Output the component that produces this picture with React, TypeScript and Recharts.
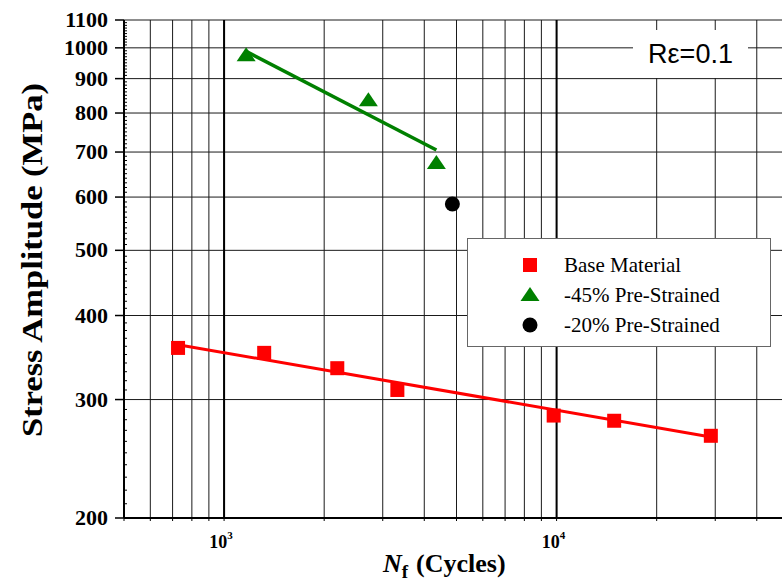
import { ScatterChart, Scatter, XAxis, YAxis, CartesianGrid, ReferenceLine, Legend, Label } from 'recharts';

// cycles to failure / stress amplitude (MPa)
const baseCycles = [727, 1320, 2190, 3320, 9800, 14900, 29100];
const baseStress = [358, 352, 334, 310, 284, 279, 265];
const baseFitCycles = [727, 29100];
const baseFitStress = [362, 264];

const pre45Cycles = [1165, 2716, 4350];
const pre45Stress = [975, 836, 674];
const pre45FitCycles = [1165, 4350];
const pre45FitStress = [988, 705];

const pre20Cycles = [4860];
const pre20Stress = [586];

const xTicks = [
  500, 600, 700, 800, 900,
  1000, 2000, 3000, 4000, 5000, 6000, 7000, 8000, 9000,
  10000, 20000, 30000, 40000,
];
const xDecades = [1000, 10000];
const yMajor = [200, 300, 400, 500, 600, 700, 800, 900, 1000, 1100];
const yMinor = Array.from({ length: 91 }, (_, i) => 200 + i * 10);

const zip = (xs: number[], ys: number[]) => xs.map((x, i) => ({ x, y: ys[i] }));

const baseData = zip(baseCycles, baseStress);
const baseFit = zip(baseFitCycles, baseFitStress);
const pre45Data = zip(pre45Cycles, pre45Stress);
const pre45Fit = zip(pre45FitCycles, pre45FitStress);
const pre20Data = zip(pre20Cycles, pre20Stress);

const SERIF = '"Liberation Serif", "Times New Roman", serif';
const SANS = '"Liberation Sans", Arial, sans-serif';

const Square = ({ cx, cy }: any) => <rect x={cx - 7} y={cy - 7} width={14} height={14} fill="#ff0000" />;
const Triangle = ({ cx, cy }: any) => (
  <polygon points={`${cx},${cy - 8} ${cx - 9.5},${cy + 6} ${cx + 9.5},${cy + 6}`} fill="#008000" />
);
const Dot = ({ cx, cy }: any) => <circle cx={cx} cy={cy} r={7.5} fill="#000" />;
const NoMark = () => <g />;

const YTick = ({ x, y, payload }: any) => {
  const v = payload.value;
  if (v % 100 === 0) {
    return (
      <g>
        <line x1={x - 9} x2={x} y1={y} y2={y} stroke="#000" strokeWidth={1.5} />
        <text x={x - 16} y={y + 7} textAnchor="end" fontFamily={SERIF} fontWeight="bold" fontSize={22} fill="#000">
          {v}
        </text>
      </g>
    );
  }
  return <line x1={x} x2={x + 3} y1={y} y2={y} stroke="#000" strokeWidth={1} />;
};

const XTick = ({ x, y, payload }: any) => {
  const v = payload.value;
  const exp = Math.round(Math.log10(v));
  const isDecade = xDecades.includes(v);
  return (
    <g>
      <line x1={x} x2={x} y1={y} y2={y + 3} stroke="#000" strokeWidth={1} />
      {isDecade && (
        <text x={x - 3} y={y + 30} textAnchor="middle" fontFamily={SERIF} fontWeight="bold" fontSize={18} fill="#000">
          10<tspan dy={-9} fontSize={11}>{exp}</tspan>
        </text>
      )}
    </g>
  );
};

const XTitle = () => (
  <text x={383} y={572} fontFamily={SERIF} fontWeight="bold" fontSize={26} fill="#000">
    <tspan fontStyle="italic">N</tspan>
    <tspan dy={6} fontSize={19}>f</tspan>
    <tspan dy={-6} dx={8}>(Cycles)</tspan>
  </text>
);

const YTitle = () => (
  <text
    x={42}
    y={260}
    transform="rotate(-90, 42, 260)"
    textAnchor="middle"
    fontFamily={SERIF}
    fontWeight="bold"
    fontSize={30}
    textLength={354}
    lengthAdjust="spacingAndGlyphs"
    fill="#000"
  >
    Stress Amplitude (MPa)
  </text>
);

const legendRows = [
  { name: 'Base Material', Mark: Square },
  { name: '-45% Pre-Strained', Mark: Triangle },
  { name: '-20% Pre-Strained', Mark: Dot },
];

const LegendBox = () => (
  <div
    style={{
      width: 304,
      height: 109,
      boxSizing: 'border-box',
      border: '1px solid #666',
      background: '#fff',
      position: 'relative',
    }}
  >
    <svg width={302} height={107} style={{ position: 'absolute', left: 0, top: 0 }}>
      {legendRows.map((r, i) => {
        const cy = [26, 56, 86][i];
        return (
          <g key={r.name}>
            <r.Mark cx={62} cy={cy} />
            <text x={96} y={cy + 7} fontFamily={SERIF} fontSize={21} fill="#000">
              {r.name}
            </text>
          </g>
        );
      })}
    </svg>
  </div>
);

export default function App() {
  return (
    <div style={{ position: 'absolute', left: 0, top: 0, width: 782, height: 582, overflow: 'hidden', background: '#fff' }}>
      <ScatterChart width={790} height={582} margin={{ top: 20, right: 1, bottom: 0, left: 0 }}>
        <CartesianGrid stroke="#1a1a1a" strokeWidth={1} horizontalValues={yMajor} />
        <XAxis
          type="number"
          dataKey="x"
          scale="log"
          domain={[500, 50000]}
          ticks={xTicks}
          interval={0}
          allowDataOverflow
          height={64}
          tickSize={0}
          tickMargin={0}
          tick={<XTick />}
          axisLine={{ stroke: '#000', strokeWidth: 2 }}
          tickLine={false}
        >
          <Label content={<XTitle />} />
        </XAxis>
        <YAxis
          type="number"
          dataKey="y"
          scale="log"
          domain={[200, 1100]}
          ticks={yMinor}
          interval={0}
          allowDataOverflow
          width={124}
          tickSize={0}
          tickMargin={0}
          tick={<YTick />}
          axisLine={{ stroke: '#000', strokeWidth: 2 }}
          tickLine={false}
        >
          <Label content={<YTitle />} />
        </YAxis>
        {xDecades.map((d) => (
          <ReferenceLine key={d} x={d} stroke="#000" strokeWidth={2} />
        ))}
        <Scatter data={baseFit} line={{ stroke: '#ff0000', strokeWidth: 3 }} shape={<NoMark />} isAnimationActive={false} />
        <Scatter data={pre45Fit} line={{ stroke: '#008000', strokeWidth: 3.5 }} shape={<NoMark />} isAnimationActive={false} />
        <Scatter name="Base Material" data={baseData} shape={<Square />} isAnimationActive={false} />
        <Scatter name="-45% Pre-Strained" data={pre45Data} shape={<Triangle />} isAnimationActive={false} />
        <Scatter name="-20% Pre-Strained" data={pre20Data} shape={<Dot />} isAnimationActive={false} />
        <Legend
          layout="vertical"
          align="center"
          verticalAlign="middle"
          content={<LegendBox />}
          wrapperStyle={{ position: 'absolute', left: 467, top: 238, width: 304, height: 109 }}
        />
      </ScatterChart>
      <div
        style={{
          position: 'absolute',
          left: 633,
          top: 30,
          width: 115,
          height: 48,
          background: '#fff',
          fontFamily: SANS,
          fontSize: 27,
          lineHeight: '48px',
          textAlign: 'center',
          color: '#000',
        }}
      >
        Rε=0.1
      </div>
    </div>
  );
}
